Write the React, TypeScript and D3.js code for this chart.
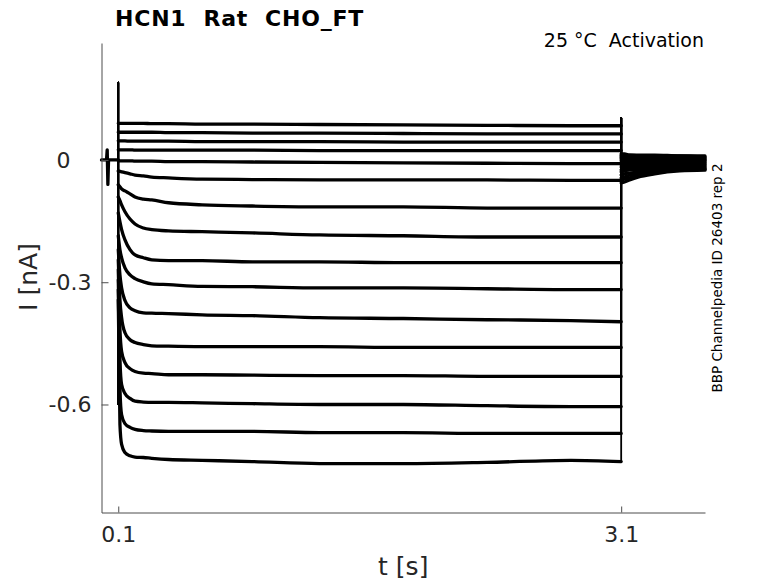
import React, { useRef, useEffect } from "react";
import * as d3 from "d3";

const W = 778;
const H = 583;
const FONT = "'DejaVu Sans', sans-serif";
const AXIS_COLOR = "#4d4d4d";
const TEXT_COLOR = "#262626";

// holding period before the step (same for every sweep)
const PRE_T = [0, 0.03, 0.034, 0.038, 0.042, 0.1];
const PRE_I = [0, 0, 0.025, -0.06, 0, 0];

// capacitive transients at step on / off
const ONSET_SPIKE = [0.19, -0.6];
const OFFSET_SPIKE = [0.103];

// activation step, one row per sweep (nA)
const STEP_T = [0.1, 0.11, 0.12, 0.14, 0.17, 0.2, 0.25, 0.3, 0.4, 0.6, 0.9, 1.3, 1.8, 2.3, 2.8, 3.1];
const STEP_I = [
  [0.09, 0.09, 0.09, 0.09, 0.09, 0.09, 0.09, 0.089, 0.089, 0.088, 0.088, 0.087, 0.086, 0.085, 0.084, 0.084],
  [0.068, 0.068, 0.068, 0.068, 0.068, 0.068, 0.068, 0.068, 0.067, 0.067, 0.066, 0.066, 0.065, 0.064, 0.064, 0.064],
  [0.047, 0.047, 0.047, 0.047, 0.046, 0.046, 0.046, 0.046, 0.046, 0.045, 0.045, 0.045, 0.044, 0.044, 0.044, 0.044],
  [0.025, 0.025, 0.025, 0.025, 0.025, 0.024, 0.024, 0.024, 0.024, 0.024, 0.024, 0.023, 0.023, 0.023, 0.023, 0.023],
  [-0.001, -0.002, -0.002, -0.002, -0.002, -0.003, -0.003, -0.003, -0.004, -0.004, -0.005, -0.006, -0.007, -0.008, -0.009, -0.009],
  [-0.027, -0.028, -0.029, -0.031, -0.034, -0.037, -0.039, -0.042, -0.044, -0.047, -0.048, -0.049, -0.049, -0.049, -0.05, -0.05],
  [-0.061, -0.066, -0.071, -0.076, -0.083, -0.091, -0.096, -0.098, -0.105, -0.11, -0.113, -0.115, -0.115, -0.118, -0.118, -0.118],
  [-0.091, -0.1, -0.11, -0.127, -0.145, -0.157, -0.167, -0.171, -0.174, -0.176, -0.179, -0.184, -0.186, -0.189, -0.189, -0.189],
  [-0.13, -0.152, -0.171, -0.196, -0.22, -0.233, -0.24, -0.245, -0.247, -0.247, -0.25, -0.25, -0.252, -0.252, -0.252, -0.252],
  [-0.186, -0.22, -0.24, -0.265, -0.282, -0.291, -0.299, -0.304, -0.306, -0.31, -0.311, -0.314, -0.314, -0.316, -0.318, -0.318],
  [-0.22, -0.282, -0.314, -0.345, -0.363, -0.37, -0.375, -0.376, -0.377, -0.38, -0.382, -0.387, -0.389, -0.392, -0.394, -0.397],
  [-0.245, -0.343, -0.387, -0.424, -0.441, -0.448, -0.453, -0.456, -0.457, -0.458, -0.458, -0.458, -0.46, -0.46, -0.46, -0.46],
  [-0.269, -0.416, -0.47, -0.497, -0.512, -0.519, -0.523, -0.524, -0.527, -0.527, -0.528, -0.529, -0.529, -0.531, -0.531, -0.531],
  [-0.294, -0.49, -0.551, -0.573, -0.585, -0.592, -0.594, -0.595, -0.595, -0.596, -0.598, -0.6, -0.6, -0.603, -0.605, -0.605],
  [-0.318, -0.563, -0.625, -0.647, -0.656, -0.661, -0.664, -0.665, -0.666, -0.666, -0.666, -0.669, -0.669, -0.671, -0.671, -0.671],
  [-0.343, -0.649, -0.698, -0.718, -0.726, -0.729, -0.73, -0.732, -0.735, -0.737, -0.74, -0.745, -0.745, -0.742, -0.737, -0.74],
];

// tail after the step, one row per sweep (nA)
const TAIL_T = [3.1, 3.12, 3.15, 3.2, 3.3, 3.45, 3.6];
const TAIL_I = [
  [0.015, 0.015, 0.012, 0.012, 0.012, 0.01, 0.01],
  [0.012, 0.012, 0.012, 0.01, 0.01, 0.01, 0.007],
  [0.01, 0.01, 0.01, 0.007, 0.007, 0.007, 0.005],
  [0.007, 0.007, 0.007, 0.005, 0.005, 0.005, 0.002],
  [0.005, 0.005, 0.005, 0.002, 0.002, 0.002, 0.0],
  [0.002, 0.002, 0.002, 0.0, 0.0, 0.0, -0.002],
  [-0.002, -0.002, -0.002, -0.002, -0.002, -0.005, -0.005],
  [-0.007, -0.007, -0.005, -0.005, -0.005, -0.007, -0.007],
  [-0.012, -0.012, -0.01, -0.01, -0.01, -0.01, -0.01],
  [-0.017, -0.017, -0.015, -0.015, -0.012, -0.012, -0.012],
  [-0.024, -0.022, -0.02, -0.02, -0.017, -0.015, -0.015],
  [-0.029, -0.027, -0.024, -0.024, -0.022, -0.017, -0.017],
  [-0.037, -0.034, -0.032, -0.029, -0.024, -0.02, -0.02],
  [-0.044, -0.042, -0.037, -0.034, -0.029, -0.022, -0.022],
  [-0.049, -0.047, -0.044, -0.039, -0.032, -0.024, -0.023],
  [-0.056, -0.054, -0.049, -0.042, -0.034, -0.027, -0.025],
];

const X_TICKS = [0.1, 3.1];
const X_TICK_LABELS = ["0.1", "3.1"];
const Y_TICKS = [-0.6, -0.3, 0];
const Y_TICK_LABELS = ["-0.6", "-0.3", "0"];

const PLOT = { left: 101.5, right: 705, top: 43, bottom: 512.5 };

const x = d3.scaleLinear().domain([0, 3.6]).range([PLOT.left, PLOT.right]);
const y = d3.scaleLinear().domain([-0.865, 0.287]).range([PLOT.bottom, PLOT.top]);

type Pt = [number, number];
const straight = d3.line<Pt>().x((d) => x(d[0])).y((d) => y(d[1]));
const smooth = d3
  .line<Pt>()
  .x((d) => x(d[0]))
  .y((d) => y(d[1]))
  .curve(d3.curveMonotoneX);

const App: React.FC = () => {
  const xAxisRef = useRef<SVGGElement>(null);
  const yAxisRef = useRef<SVGGElement>(null);

  useEffect(() => {
    if (!xAxisRef.current || !yAxisRef.current) return;

    const xa = d3.select(xAxisRef.current);
    xa.call(
      d3
        .axisBottom(x)
        .tickValues(X_TICKS)
        .tickFormat((_, i) => X_TICK_LABELS[i])
        .tickSizeInner(-6)
        .tickSizeOuter(0)
        .tickPadding(14)
    );

    const ya = d3.select(yAxisRef.current);
    // MATLAB pads the shorter labels to the width of "-0.3"
    ya.call(
      d3
        .axisLeft(y)
        .tickValues(Y_TICKS)
        .tickFormat((_, i) => Y_TICK_LABELS[i].padEnd(4, "\u00a0"))
        .tickSizeInner(-7)
        .tickSizeOuter(0)
        .tickPadding(10)
    );

    [xa, ya].forEach((g) => {
      g.attr("font-size", 22).attr("font-family", FONT);
      g.select(".domain").attr("stroke", AXIS_COLOR);
      g.selectAll(".tick line").attr("stroke", AXIS_COLOR);
      g.selectAll(".tick text").attr("fill", TEXT_COLOR);
    });
  }, []);

  const pre = straight(PRE_T.map((t, j) => [t, PRE_I[j]] as Pt)) || "";

  return (
    <div style={{ position: "absolute", left: 0, top: 0 }}>
      <svg width={W} height={H} style={{ display: "block", background: "#fff" }}>
        <g fill="none" stroke="#000" strokeWidth={3.3} strokeLinejoin="round" strokeLinecap="round">
          <path d={pre} />
          {STEP_I.map((row, i) => {
            const onset: Pt[] = [
              [0.1, 0],
              [0.1, ONSET_SPIKE[0]],
              [0.1, ONSET_SPIKE[1]],
              [0.1, row[0]],
            ];
            const step = STEP_T.map((t, j) => [t, row[j]] as Pt);
            const offset: Pt[] = [
              [3.1, row[row.length - 1]],
              [3.1, OFFSET_SPIKE[0]],
              [3.1, TAIL_I[i][0]],
            ];
            const tail = TAIL_T.map((t, j) => [t, TAIL_I[i][j]] as Pt);
            return (
              <g key={i}>
                <path d={straight(onset) || ""} strokeWidth={1.6} />
                <path d={smooth(step) || ""} />
                <path d={straight(offset) || ""} strokeWidth={1.8} />
                <path d={smooth(tail) || ""} />
              </g>
            );
          })}
        </g>

        <g ref={xAxisRef} transform={`translate(0, ${PLOT.bottom})`} />
        <g ref={yAxisRef} transform={`translate(${PLOT.left}, 0)`} />

        <text
          x={115}
          y={26}
          fontFamily={FONT}
          fontSize={22}
          fontWeight="bold"
          letterSpacing={0.8}
          fill="#000"
          xmlSpace="preserve"
          style={{ whiteSpace: "pre" }}
        >
          {"HCN1  Rat  CHO_FT"}
        </text>
        <text
          x={704}
          y={47}
          textAnchor="end"
          fontFamily={FONT}
          fontSize={19}
          fill="#000"
          xmlSpace="preserve"
          style={{ whiteSpace: "pre" }}
        >
          {"25 °C  Activation"}
        </text>
        <text
          transform="translate(722, 278) rotate(-90)"
          textAnchor="middle"
          fontFamily={FONT}
          fontSize={13.5}
          fill="#000"
        >
          BBP Channelpedia ID 26403 rep 2
        </text>
        <text
          transform="translate(37, 277) rotate(-90)"
          textAnchor="middle"
          fontFamily={FONT}
          fontSize={25}
          fill={TEXT_COLOR}
        >
          I [nA]
        </text>
        <text
          x={(PLOT.left + PLOT.right) / 2}
          y={575}
          textAnchor="middle"
          fontFamily={FONT}
          fontSize={25}
          fill={TEXT_COLOR}
        >
          t [s]
        </text>
      </svg>
    </div>
  );
};

export default App;
